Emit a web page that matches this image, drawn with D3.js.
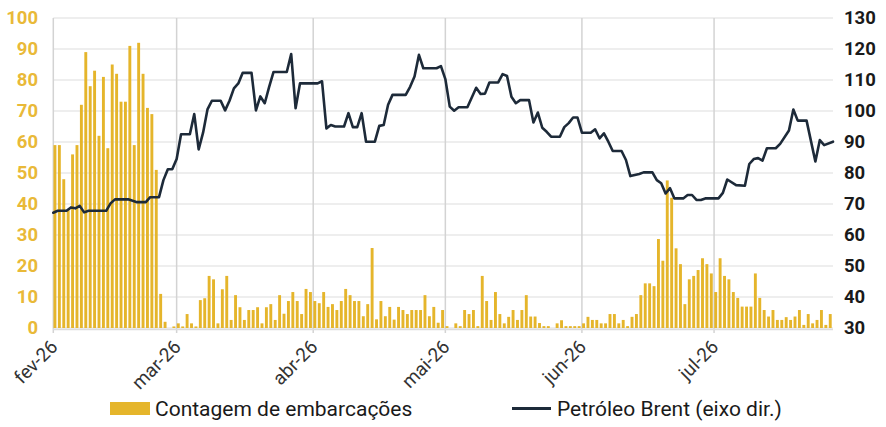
<!DOCTYPE html>
<html>
<head>
<meta charset="utf-8">
<script src="https://cdn.jsdelivr.net/npm/d3@7"></script>
<style>
  html, body { margin: 0; padding: 0; background: #ffffff; }
  svg { display: block; }
  text { font-family: Roboto, "Noto Sans", sans-serif; }
</style>
</head>
<body>
<svg id="chart" width="886" height="427"></svg>
<script>
// ---------------- DATA ----------------
const monthStarts = ["2026-02-01", "2026-03-01", "2026-04-01", "2026-05-01", "2026-06-01", "2026-07-01"];
const monthLabels = ["fev-26", "mar-26", "abr-26", "mai-26", "jun-26", "jul-26"];
const leftTicks = [0, 10, 20, 30, 40, 50, 60, 70, 80, 90, 100];
const rightTicks = [30, 40, 50, 60, 70, 80, 90, 100, 110, 120, 130];

// Daily vessel counts (Contagem de embarcações), one value per day
const countsFev = [59, 59, 48, 38, 56, 59, 72, 89, 78, 83, 62, 81, 58, 85, 82, 73, 73, 91, 59, 92, 82, 71, 69, 51, 11, 2, 0, 0.5];
const countsMar = [1.5, 0.5, 4.5, 1.5, 0.5, 9, 9.6, 16.8, 15.7, 1.5, 12.5, 16.8, 2.6, 10.6, 6.7, 2.6, 5.8, 5.8, 6.7, 1.5, 6.7, 7.7, 2.6, 10.6, 4.6, 8.7, 11.6, 8.7, 4.5, 12.6, 11.6];
const countsAbr = [8.7, 8, 11.6, 6.8, 7.7, 5.8, 8.7, 12.6, 10.6, 8.7, 8.7, 3.8, 7.7, 25.8, 2.8, 8.7, 3.8, 6.8, 2.7, 6.8, 5.8, 4.5, 5.8, 5.8, 5.8, 10.6, 3.8, 6.8, 1.7, 5.8];
const countsMai = [0.6, 0, 1.5, 0.6, 5.8, 4.5, 5.8, 0.6, 16.8, 8.7, 2.6, 11.6, 4.5, 1.5, 3.6, 5.8, 2.6, 5.8, 10.6, 3.7, 3.7, 1.6, 0.6, 0.6, 0, 1.5, 2.5, 0.6, 0.6, 0.6, 0.6];
const countsJun = [1.5, 3.6, 2.6, 2.6, 1.5, 1.5, 4.5, 4.5, 1.5, 2.6, 0.6, 3.6, 4.5, 10.6, 14.4, 14.4, 13.5, 28.7, 21.7, 47.6, 42, 25.7, 20.6, 7.7, 15.7, 16.8, 18.7, 22.5, 20.6, 17.6];
const countsJul = [11.6, 22.5, 16.8, 15.7, 11.6, 9.7, 6.9, 6.9, 6.9, 17.6, 9.7, 5.8, 3.7, 5.8, 2.6, 2.6, 3.5, 2.6, 3.7, 5.8, 1, 4.5, 1.5, 2.6, 5.8, 1, 4.5];

// Brent price (eixo dir.), turning points of the line
const brentDates = [
  "02-01","02-02","02-04","02-05","02-06","02-07","02-08","02-09","02-13","02-14","02-15","02-18","02-20","02-22","02-23","02-25","02-26","02-27","02-28",
  "03-01","03-02","03-04","03-05","03-06","03-07","03-08","03-09","03-11","03-12","03-13","03-14","03-15","03-16","03-18","03-19","03-20","03-21","03-22","03-23","03-26","03-27","03-28","03-29",
  "04-02","04-03","04-04","04-05","04-06","04-08","04-09","04-10","04-11","04-12","04-13","04-15","04-16","04-17","04-18","04-19","04-22","04-23","04-24","04-25","04-26","04-29","04-30",
  "05-01","05-02","05-03","05-04","05-06","05-08","05-09","05-10","05-11","05-13","05-14","05-15","05-16","05-17","05-18","05-20","05-21","05-22","05-23","05-24","05-25","05-27","05-28","05-29","05-30","05-31",
  "06-01","06-03","06-04","06-05","06-06","06-07","06-08","06-10","06-11","06-12","06-14","06-15","06-17","06-18","06-19","06-20","06-21","06-22","06-24","06-25","06-26","06-27","06-28","06-29",
  "07-02","07-03","07-04","07-06","07-08","07-09","07-10","07-11","07-12","07-13","07-15","07-16","07-18","07-19","07-20","07-22","07-24","07-25","07-26","07-28"
];
const brentValues = [
  67.2, 67.8, 67.8, 68.9, 68.6, 69.4, 67.3, 67.8, 67.8, 70.2, 71.5, 71.5, 70.6, 70.6, 72.2, 72.2, 77.7, 81.2, 81.2,
  84.5, 92.5, 92.5, 99, 87.6, 93, 100.5, 103.3, 103.3, 100.2, 103.3, 107.3, 108.9, 112.3, 112.3, 100.2, 104.7, 102.5, 107.8, 112.6, 112.6, 118.4, 100.9, 108.9,
  108.9, 109.6, 94.4, 95.5, 95, 95, 99.3, 94.8, 94.8, 99.3, 90.1, 90.1, 95.2, 95.5, 102, 105.2, 105.2, 107.8, 111.1, 118.1, 113.8, 113.8, 114.5,
  110.3, 101.4, 100.1, 101.2, 101.2, 107.5, 105.5, 105.6, 109.2, 109.2, 111.9, 111.3, 104.6, 102.5, 103.5, 103.5, 96.3, 99.5, 94.6, 93.3, 91.7, 91.7, 94.8, 96.1, 97.9, 97.9,
  93, 93, 94.1, 91.2, 92.8, 90.1, 87.1, 87.1, 84.2, 79, 79.7, 80.2, 80.2, 77.7, 76.7, 73.4, 75.1, 71.8, 71.8, 72.9, 72.9, 71.3, 71.3, 71.8,
  71.8, 73.6, 77.9, 76.1, 75.9, 82.9, 84.5, 84.8, 84, 88, 88, 89.4, 93.7, 100.5, 96.9, 96.9, 83.7, 90.6, 89, 90.1
];

const legendBarsLabel = "Contagem de embarcações";
const legendLineLabel = "Petróleo Brent (eixo dir.)";

// ---------------- BUILD ----------------
const parse = d3.utcParse("%Y-%m-%d");
const allCounts = [].concat(countsFev, countsMar, countsAbr, countsMai, countsJun, countsJul);
const firstDay = parse("2026-02-01");
const barData = allCounts.map((v, i) => ({ date: d3.utcDay.offset(firstDay, i), value: v }));
const lineData = brentDates.map((d, i) => ({ date: parse("2026-" + d), value: brentValues[i] }));

const gold = "#e5b52b";
const goldText = "#e9b938";
const navy = "#1d2a39";

const svg = d3.select("#chart");
const plot = { left: 53.3, right: 833, top: 18, bottom: 328 };

const x = d3.scaleUtc()
  .domain([firstDay, parse("2026-07-28")])
  .range([plot.left, plot.right]);
const yL = d3.scaleLinear().domain([0, 100]).range([plot.bottom, plot.top]);
const yR = d3.scaleLinear().domain([30, 130]).range([plot.bottom, plot.top]);

// horizontal gridlines
svg.append("g")
  .selectAll("line")
  .data(leftTicks)
  .join("line")
  .attr("x1", plot.left).attr("x2", plot.right)
  .attr("y1", d => yL(d)).attr("y2", d => yL(d))
  .attr("stroke", "#e9e9e9").attr("stroke-width", 1.3);

// vertical month gridlines
const monthDates = monthStarts.map(parse);
svg.append("g")
  .selectAll("line")
  .data(monthDates)
  .join("line")
  .attr("x1", d => x(d)).attr("x2", d => x(d))
  .attr("y1", plot.top).attr("y2", plot.bottom + 5)
  .attr("stroke", "#d3d3d3").attr("stroke-width", 1.5);

// baseline
svg.append("line")
  .attr("x1", plot.left).attr("x2", plot.right)
  .attr("y1", plot.bottom + 1.5).attr("y2", plot.bottom + 1.5)
  .attr("stroke", "#dcdcdc").attr("stroke-width", 1.3);

// bars
const barW = 2.9;
svg.append("g")
  .selectAll("rect")
  .data(barData)
  .join("rect")
  .attr("x", d => x(d.date) + 0.2)
  .attr("y", d => yL(d.value))
  .attr("width", barW)
  .attr("height", d => yL(0) - yL(d.value))
  .attr("fill", gold);

// line
const line = d3.line().x(d => x(d.date)).y(d => yR(d.value));
svg.append("path")
  .datum(lineData)
  .attr("d", line)
  .attr("fill", "none")
  .attr("stroke", navy)
  .attr("stroke-width", 2.6)
  .attr("stroke-linejoin", "round")
  .attr("stroke-linecap", "round");

// left axis labels
const leftAxis = d3.axisLeft(yL).tickValues(leftTicks).tickSize(0).tickPadding(0);
const gl = svg.append("g").attr("transform", "translate(38,0)").call(leftAxis);
gl.select(".domain").remove();
gl.selectAll("text")
  .attr("fill", goldText)
  .style("font-size", "18.5px")
  .style("font-weight", "700")
  .style("font-family", "Roboto, sans-serif");

// right axis labels
const rightAxis = d3.axisRight(yR).tickValues(rightTicks).tickSize(0).tickPadding(0);
const gr = svg.append("g").attr("transform", "translate(844,0)").call(rightAxis);
gr.select(".domain").remove();
gr.selectAll("text")
  .attr("fill", "#1a1a1a")
  .style("font-size", "18.5px")
  .style("font-weight", "700")
  .style("font-family", "Roboto, sans-serif");

// bottom axis labels
const bottomAxis = d3.axisBottom(x).tickValues(monthDates).tickSize(0)
  .tickFormat((d, i) => monthLabels[i]);
const gb = svg.append("g").attr("transform", `translate(0,${plot.bottom})`).call(bottomAxis);
gb.select(".domain").remove();
gb.selectAll("text")
  .attr("fill", "#333333")
  .attr("text-anchor", "end")
  .attr("dy", 0).attr("y", 0)
  .attr("transform", "translate(5,20) rotate(-45)")
  .style("font-size", "19px")
  .style("font-family", "Roboto, sans-serif");

// legend
const lg = svg.append("g");
lg.append("rect").attr("x", 110).attr("y", 402).attr("width", 40).attr("height", 13).attr("fill", gold);
lg.append("text").attr("x", 155).attr("y", 416).text(legendBarsLabel)
  .attr("fill", "#1a1a1a").style("font-size", "21px");
lg.append("line").attr("x1", 512).attr("x2", 551).attr("y1", 408.5).attr("y2", 408.5)
  .attr("stroke", navy).attr("stroke-width", 3);
lg.append("text").attr("x", 557).attr("y", 416).text(legendLineLabel)
  .attr("fill", "#1a1a1a").style("font-size", "21px");
</script>
</body>
</html>
